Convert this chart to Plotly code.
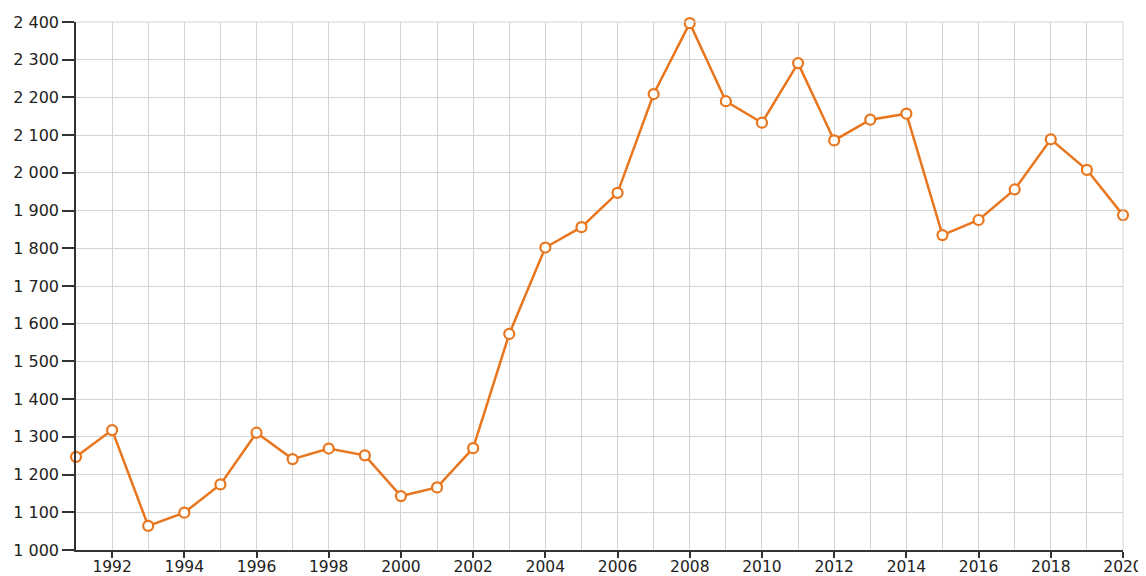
import plotly.graph_objects as go

years = list(range(1991, 2021))
values = [1247, 1318, 1064, 1099, 1174, 1311, 1241, 1269, 1251, 1143,
          1166, 1270, 1573, 1802, 1856, 1947, 2209, 2397, 2190, 2133,
          2291, 2086, 2141, 2157, 1835, 1875, 1956, 2089, 2008, 1888]
y_ticks = list(range(1000, 2401, 100))
x_ticks = list(range(1992, 2021, 2))

fig = go.Figure()
fig.add_trace(go.Scatter(
    x=years, y=values, mode="lines+markers",
    line=dict(color="#E8761E", width=2.5),
    marker=dict(symbol="circle", size=10, color="white",
                line=dict(color="#E8761E", width=2.2)),
    cliponaxis=False, showlegend=False,
))

# page body has an 8px default margin, so the figure is offset by 8px
fig.update_layout(
    width=1138, height=568,
    margin=dict(l=68, r=23, t=14, b=26, autoexpand=False),
    plot_bgcolor="white", paper_bgcolor="white",
    separators=". ",
    font=dict(family="DejaVu Sans, Verdana, sans-serif", size=16, color="#222"),
)
fig.update_xaxes(
    range=[1991, 2020], tickvals=x_ticks, ticktext=[str(v) for v in x_ticks],
    tickfont=dict(size=15.5),
    showgrid=True, gridcolor="#d4d4d4", gridwidth=1,
    minor=dict(dtick=1, tick0=1991, showgrid=True, gridcolor="#d4d4d4", gridwidth=1),
    showline=True, linecolor="#333", linewidth=1.5,
    ticks="outside", ticklen=6, tickcolor="#333", tickwidth=1.5,
    ticklabelstandoff=-4,
    zeroline=False, fixedrange=True, automargin=False,
)
fig.update_yaxes(
    range=[1000, 2400], tickvals=y_ticks, separatethousands=True, tickformat=",d",
    showgrid=True, gridcolor="#d4d4d4", gridwidth=1,
    showline=True, linecolor="#333", linewidth=1.5,
    ticks="outside", ticklen=12, tickcolor="#333", tickwidth=1.5,
    zeroline=False, fixedrange=True, automargin=False,
)
fig.add_shape(type="line", xref="paper", yref="paper", x0=1, x1=1, y0=0, y1=1,
              line=dict(color="#d4d4d4", width=1))
fig.add_shape(type="line", xref="paper", yref="paper", x0=0, x1=1, y0=1, y1=1,
              line=dict(color="#d4d4d4", width=1))

fig.write_html("out.html")
